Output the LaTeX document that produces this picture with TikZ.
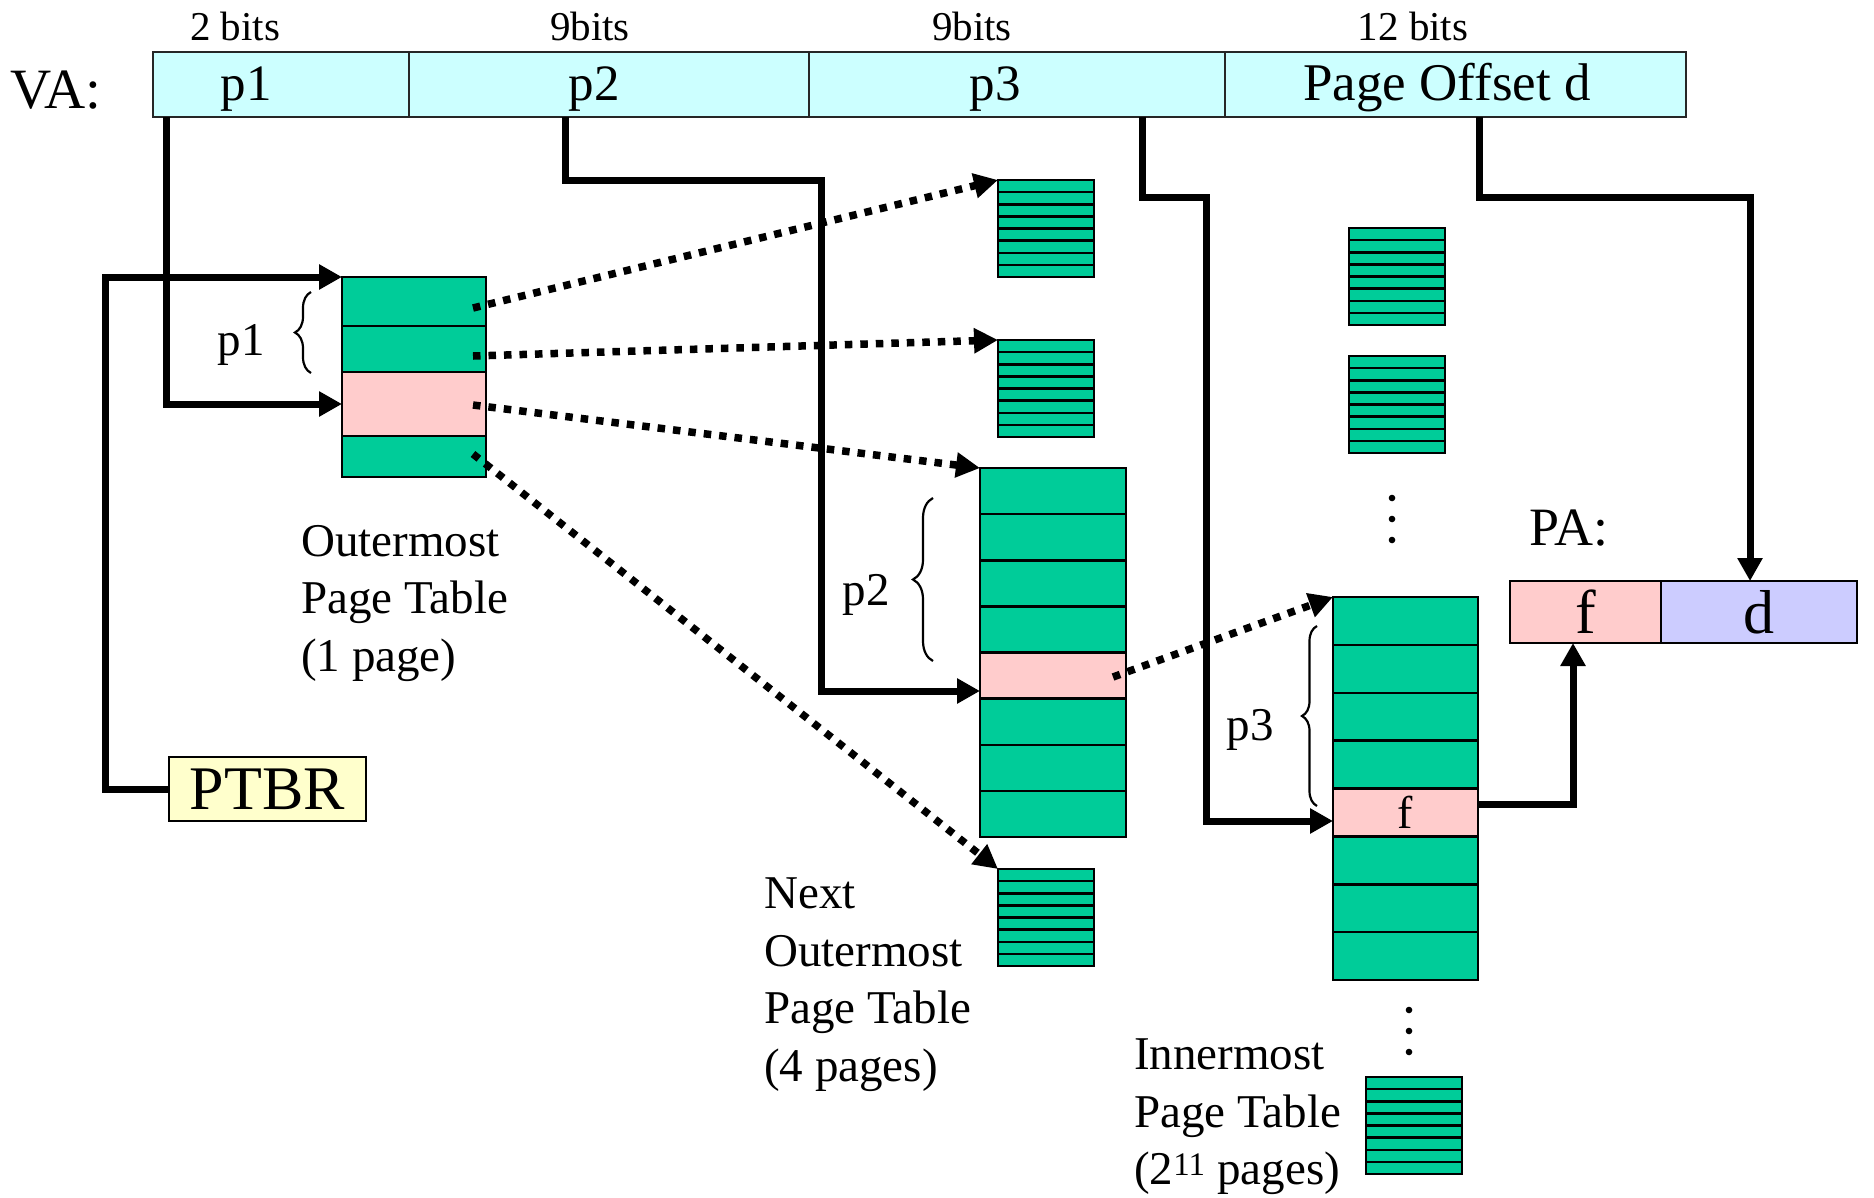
\documentclass[tikz,border=0pt]{standalone}
\usepackage{fontspec}
\setmainfont{Liberation Serif}
\usetikzlibrary{calc, arrows.meta, decorations.pathreplacing}

\definecolor{vacyan}{RGB}{204,255,255}
\definecolor{ptegreen}{RGB}{0,204,153}
\definecolor{ptepink}{RGB}{255,204,204}
\definecolor{offblue}{RGB}{204,204,255}
\definecolor{regyellow}{RGB}{255,255,204}

\tikzset{
    field/.style={draw=black!85, line width=2pt, fill=vacyan, inner sep=0pt, outer sep=0pt,
        minimum height=65pt, anchor=north west},
    tablebox/.style={draw, line width=2.5pt, fill=ptegreen, inner sep=0pt, outer sep=0pt, anchor=north west},
    hit/.style={draw, line width=2.5pt, fill=ptepink},
    rowline/.style={line width=2.5pt},
    route/.style={line width=7pt, -{Triangle[length=23pt,width=24pt]}},
    pointer/.style={line width=7.5pt, dash pattern=on 7.5pt off 8pt, -{Triangle[length=24pt,width=24pt]}},
    curly/.style={decorate, decoration={brace, amplitude=#1}, line width=2.2pt},
    curly/.default=16pt,
    bitsfont/.style={inner sep=0pt, font=\fontsize{41}{49}\selectfont},
    cellfont/.style={inner sep=0pt, font=\fontsize{51}{60}\selectfont},
    labfont/.style={inner sep=0pt, font=\fontsize{47}{57.5}\selectfont},
}

\begin{document}
\begin{tikzpicture}[x=1pt, y=-1pt]
    \useasboundingbox (0,0) rectangle (1874,1197);

    % Virtual address fields
    \foreach \n/\x/\w in {cp1/153/256, cp2/409/400, cp3/809/416, cpd/1225/461}{
        \node[field, minimum width=\w pt] (\n) at (\x,52) {};
    }
    \node[cellfont, anchor=base] (tp1) at (246,100) {p1};
    \node[cellfont, anchor=base] (tp2) at (594,100) {p2};
    \node[cellfont, anchor=base] (tp3) at (995,100) {p3};
    \node[inner sep=0pt, font=\fontsize{53}{60}\selectfont, anchor=base] (tpd) at (1447,100) {Page Offset d};
    \node[inner sep=0pt, font=\fontsize{57}{64}\selectfont, anchor=base west] (va) at (10,108) {VA:};

    % Field widths
    \node[bitsfont, anchor=base] (b1) at (235,40) {2 bits};
    \node[bitsfont, anchor=base] (b2) at (590,40) {9bits};
    \node[bitsfont, anchor=base] (b3) at (972,40) {9bits};
    \node[bitsfont, anchor=base] (b4) at (1413,40) {12 bits};

    % Outermost page table (one page, entry selected by p1)
    \node[tablebox, minimum width=144pt, minimum height=200pt] (outer) at (342,277) {};
    \draw[rowline] ($(outer.north west)+(0,49)$) -- ($(outer.north east)+(0,49)$);
    \filldraw[hit] ($(outer.north west)+(0,95)$) rectangle ($(outer.north east)+(0,159)$);

    % Next outermost page table (entry selected by p2)
    \node[tablebox, minimum width=146pt, minimum height=369pt] (mid) at (980,468) {};
    \filldraw[hit] ($(mid.north west)!4/8!(mid.south west)$) rectangle ($(mid.north east)!5/8!(mid.south east)$);
    \foreach \k in {1,...,7}{
        \draw[rowline] ($(mid.north west)!\k/8!(mid.south west)$) -- ($(mid.north east)!\k/8!(mid.south east)$);
    }

    % Innermost page table (entry selected by p3 holds the frame f)
    \node[tablebox, minimum width=145pt, minimum height=383pt] (inner) at (1333,597) {};
    \filldraw[hit] ($(inner.north west)!4/8!(inner.south west)$) rectangle ($(inner.north east)!5/8!(inner.south east)$);
    \foreach \k in {1,...,7}{
        \draw[rowline] ($(inner.north west)!\k/8!(inner.south west)$) -- ($(inner.north east)!\k/8!(inner.south east)$);
    }
    \node[inner sep=0pt, font=\fontsize{46}{54}\selectfont, anchor=base] (frame) at (1405,828) {f};

    % The other, smaller pages of the tables
    \foreach \n/\x/\y in {s1/998/180, s2/998/340, s3/998/869, r1/1349/228, r2/1349/356, r3/1366/1077}{
        \node[tablebox, minimum width=96pt, minimum height=97pt] (\n) at (\x,\y) {};
        \foreach \k in {1,...,7}{
            \draw[rowline] ($(\n.north west)!\k/8!(\n.south west)$) -- ($(\n.north east)!\k/8!(\n.south east)$);
        }
    }

    % Vertical dots for the pages left out
    \foreach \y in {498,519,540} \fill (1392,\y) circle (3.3pt);
    \foreach \y in {1010,1031,1052} \fill (1409,\y) circle (3.3pt);

    % Page table base register
    \node[draw, line width=2pt, fill=regyellow, minimum width=197pt, minimum height=64pt,
        anchor=north west, inner sep=0pt, outer sep=0pt, font=\fontsize{62}{70}\selectfont] (ptbr) at (169,757) {PTBR};

    % Physical address
    \node[inner sep=0pt, font=\fontsize{54}{60}\selectfont, anchor=base west] (pa) at (1529,545) {PA:};
    \node[draw, line width=2.5pt, fill=ptepink, minimum width=151pt, minimum height=62pt, anchor=north west,
        inner sep=0pt, outer sep=0pt, font=\fontsize{62}{70}\selectfont] (paf) at (1510,581) {f};
    \node[draw, line width=2.5pt, fill=offblue, minimum width=196pt, minimum height=62pt, anchor=north west,
        inner sep=0pt, outer sep=0pt, font=\fontsize{62}{70}\selectfont] (pad) at (1661,581) {d};

    % Braces over the indexed entries
    \draw[curly] (311,373) -- (311,292);
    \node[labfont, anchor=base] (lp1) at (241,355) {p1};
    \draw[curly=20pt] (933,661) -- (933,498);
    \node[labfont, anchor=base] (lp2) at (866,605) {p2};
    \draw[curly=15pt] (1317,806) -- (1317,626);
    \node[labfont, anchor=base] (lp3) at (1250,740) {p3};

    % Table captions
    \node[labfont, anchor=north west, align=left] (outerlbl) at (301,525) {Outermost\\Page Table\\(1 page)};
    \node[labfont, anchor=north west, align=left] (midlbl) at (764,878) {Next\\Outermost\\Page Table\\(4 pages)};
    \node[labfont, anchor=north west, align=left] (innerlbl) at (1134,1039) {Innermost\\Page Table\\(2\textsuperscript{11} pages)};

    % Solid routes: PTBR and the address fields
    \draw[route] (ptbr.west) -- ++(-64,0) |- (outer.north west);

    \coordinate (v1) at ($(cp1.south west)+(13,0)$);
    \coordinate (e1) at ($(outer.north west)+(0,127)$);
    \draw[route] (v1) |- (e1);

    \coordinate (v2) at ($(cp2.south west)+(156,0)$);
    \coordinate (k2) at (821,180);
    \coordinate (e2) at ($(mid.north west)+(0,223)$);
    \draw[route] (v2) |- (k2) |- (e2);

    \coordinate (v3) at ($(cp3.south west)+(333,0)$);
    \coordinate (k3) at (1206,197);
    \coordinate (e3) at ($(inner.north west)+(0,224)$);
    \draw[route] (v3) |- (k3) |- (e3);

    \coordinate (v4) at ($(cpd.south west)+(254,0)$);
    \coordinate (k4) at (1750,197);
    \draw[route] (v4) |- (k4) -- (k4 |- pad.north);

    \coordinate (fo) at ($(inner.north east)+(0,207)$);
    \coordinate (fi) at ($(paf.south west)+(63,0)$);
    \draw[route] (fo) -| (fi);

    % Dotted pointers from table entries to the next level pages
    \foreach \k/\y/\t in {1/308/s1, 2/356/s2, 3/405/mid, 4/454/s3}{
        \coordinate (o\k) at (473,\y);
        \draw[pointer] (o\k) -- (\t.north west);
    }
    \coordinate (m5) at (1113,677);
    \draw[pointer] (m5) -- (inner.north west);
\end{tikzpicture}
\end{document}
